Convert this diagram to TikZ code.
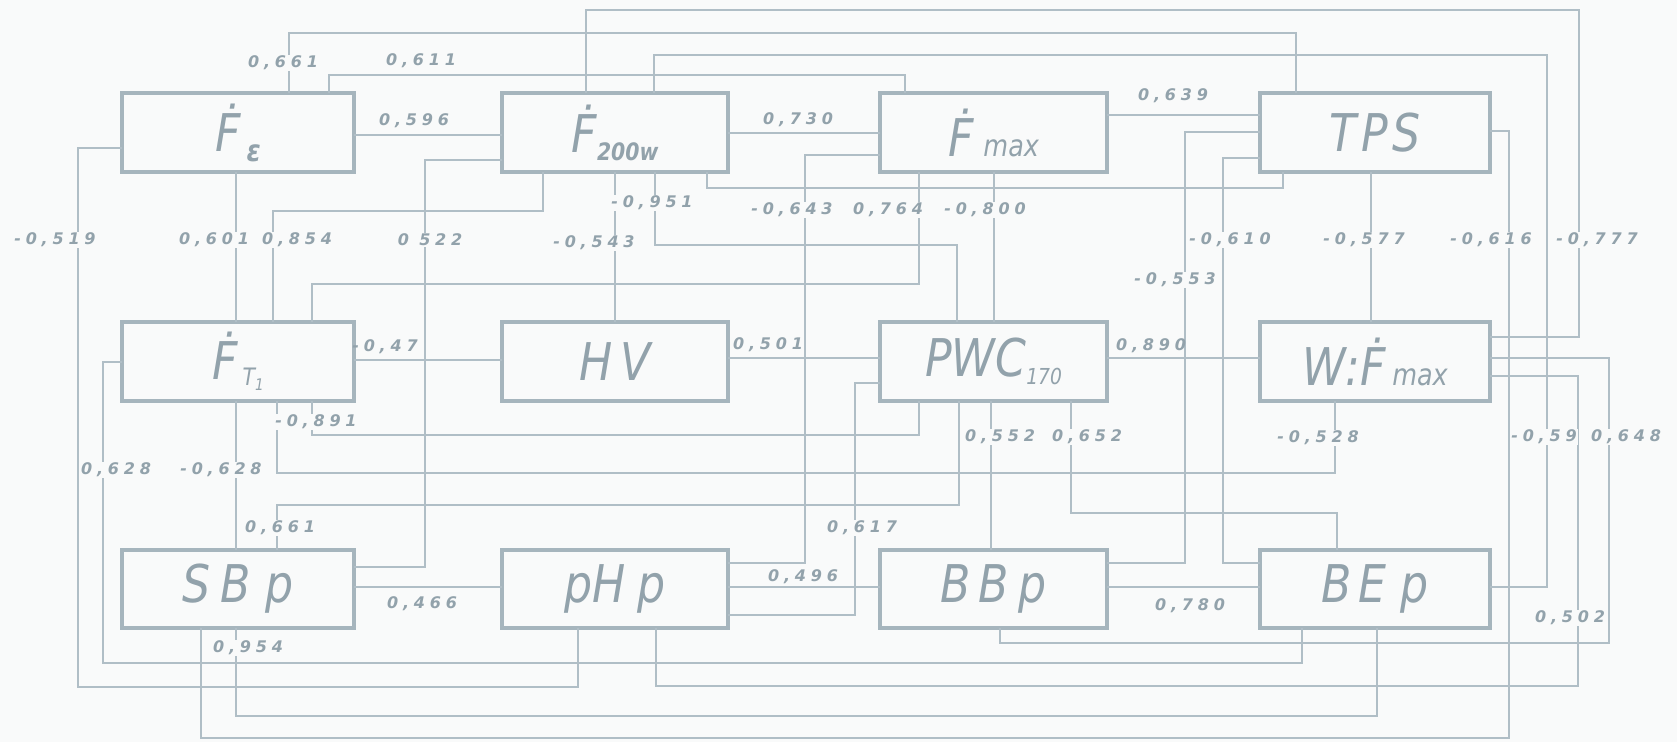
\documentclass[tikz,border=0pt]{standalone}
\usepackage{fontspec}
\usetikzlibrary{calc}
\newfontfamily\boxfont[FakeStretch=0.85]{DejaVu Sans}
\newfontfamily\numfont[LetterSpace=30]{DejaVu Sans}
\definecolor{bgc}{RGB}{249,250,250}
\definecolor{linec}{RGB}{176,190,198}
\definecolor{boxc}{RGB}{166,181,189}
\definecolor{txtc}{RGB}{146,162,171}
\begin{document}
\begin{tikzpicture}[x=1pt,y=-1pt,
  box/.style={draw=boxc,line width=3.2pt,minimum height=79pt,inner sep=0pt,outer sep=0pt,text=txtc,font=\boxfont\itshape\fontsize{52}{52}\selectfont},
  conn/.style={draw=linec,line width=1.5pt},
  lab/.style={text=txtc,inner sep=1pt,font=\numfont\bfseries\itshape\fontsize{16}{16}\selectfont},
  labf/.style={lab,fill=bgc}]
\fill[bgc] (0,0) rectangle (1677,742);
\useasboundingbox (0,0) rectangle (1677,742);
% boxes
\node[box,minimum width=232pt] (Fe) at (238,132.5) {Ḟ\hspace{6pt}\raisebox{-10pt}{\fontsize{30}{30}\selectfont\bfseries ε}};
\node[box,minimum width=226pt] (Fw) at (615,132.5) {Ḟ\raisebox{-8pt}{\fontsize{24}{24}\selectfont\bfseries 200w}};
\node[box,minimum width=227pt] (Fm) at (993.5,132.5) {Ḟ\hspace{10pt}{\fontsize{30}{30}\selectfont max}};
\node[box,minimum width=230pt] (TPS) at (1375,132.5) {T\hspace{5pt}P\hspace{5pt}S};
\node[box,minimum width=232pt] (Ft) at (238,361.5) {Ḟ\hspace{5pt}\raisebox{-6pt}{\fontsize{24}{24}\selectfont T\raisebox{-5pt}{\fontsize{16}{16}\selectfont 1}}};
\node[box,minimum width=226pt] (HV) at (615,361.5) {H\hspace{8pt}V};
\node[box,minimum width=227pt] (PWC) at (993.5,361.5) {PWC\raisebox{-8pt}{\fontsize{22}{22}\selectfont 170}};
\node[box,minimum width=230pt] (WF) at (1375,361.5) {W:Ḟ\hspace{6pt}{\fontsize{30}{30}\selectfont max}};
\node[box,minimum width=232pt,minimum height=78pt] (SB) at (238,589) {S\hspace{10pt}B\hspace{14pt}p};
\node[box,minimum width=226pt,minimum height=78pt] (pH) at (615,589) {pH\hspace{12pt}p};
\node[box,minimum width=227pt,minimum height=78pt] (BB) at (993.5,589) {B\hspace{8pt}B\hspace{10pt}p};
\node[box,minimum width=230pt,minimum height=78pt] (BE) at (1375,589) {B\hspace{6pt}E\hspace{14pt}p};
% connectors
\draw[conn] ($(Fe.north west)+(167,0)$) -- ++(0,-60) -| ($(TPS.north west)+(36,0)$);
\draw[conn] ($(Fe.north west)+(207,0)$) -- ++(0,-18) -| ($(Fm.north west)+(25,0)$);
\draw[conn] ($(Fe.north east)+(0,42)$) -- ($(Fw.north west)+(0,42)$);
\draw[conn] ($(Fe.south west)+(114,0)$) -- ($(Ft.north west)+(114,0)$);
\draw[conn] ($(Fe.north west)+(0,55)$) -- ++(-44,0) -- ++(0,539) -| ($(pH.south west)+(76,0)$);
\draw[conn] ($(Fw.north west)+(84,0)$) -- ++(0,-83) -- ++(993,0) |- ($(WF.north east)+(0,15)$);
\draw[conn] ($(Fw.north west)+(152,0)$) -- ++(0,-38) -- ++(893,0) |- ($(BE.north east)+(0,37)$);
\draw[conn] ($(Fw.north east)+(0,40)$) -- ($(Fm.north west)+(0,40)$);
\draw[conn] ($(Fw.north west)+(0,67)$) -- ++(-77,0) |- ($(SB.north east)+(0,17)$);
\draw[conn] ($(Fw.south west)+(41,0)$) -- ++(0,39) -| ($(Ft.north west)+(151,0)$);
\draw[conn] ($(Fw.south west)+(113,0)$) -- ($(HV.north west)+(113,0)$);
\draw[conn] ($(Fw.south west)+(153,0)$) -- ++(0,73) -| ($(PWC.north west)+(77,0)$);
\draw[conn] ($(Fw.south west)+(205,0)$) -- ++(0,16) -| ($(TPS.south west)+(23,0)$);
\draw[conn] ($(Fm.north east)+(0,22)$) -- ($(TPS.north west)+(0,22)$);
\draw[conn] ($(Fm.north west)+(0,62)$) -- ++(-75,0) |- ($(pH.north east)+(0,13)$);
\draw[conn] ($(Fm.south west)+(39,0)$) -- ++(0,112) -| ($(Ft.north west)+(190,0)$);
\draw[conn] ($(Fm.south west)+(114,0)$) -- ($(PWC.north west)+(114,0)$);
\draw[conn] ($(TPS.north west)+(0,39)$) -- ++(-75,0) |- ($(BB.north east)+(0,13)$);
\draw[conn] ($(TPS.north west)+(0,65)$) -- ++(-37,0) |- ($(BE.north west)+(0,13)$);
\draw[conn] ($(TPS.south west)+(111,0)$) -- ($(WF.north west)+(111,0)$);
\draw[conn] ($(TPS.north east)+(0,38)$) -- ++(19,0) -- ++(0,607) -| ($(SB.south west)+(79,0)$);
\draw[conn] ($(Ft.north east)+(0,38)$) -- ($(HV.north west)+(0,38)$);
\draw[conn] ($(Ft.south west)+(190,0)$) -- ++(0,34) -| ($(PWC.south west)+(39,0)$);
\draw[conn] ($(Ft.south west)+(155,0)$) -- ++(0,72) -| ($(WF.south west)+(75,0)$);
\draw[conn] ($(Ft.south west)+(114,0)$) -- ($(SB.north west)+(114,0)$);
\draw[conn] ($(Ft.north west)+(0,40)$) -- ++(-19,0) -- ++(0,301) -| ($(BE.south west)+(42,0)$);
\draw[conn] ($(HV.north east)+(0,36)$) -- ($(PWC.north west)+(0,36)$);
\draw[conn] ($(PWC.north east)+(0,36)$) -- ($(WF.north west)+(0,36)$);
\draw[conn] ($(PWC.south west)+(79,0)$) -- ++(0,104) -| ($(SB.north west)+(155,0)$);
\draw[conn] ($(PWC.north west)+(0,61)$) -- ++(-25,0) |- ($(pH.north east)+(0,65)$);
\draw[conn] ($(PWC.south west)+(111,0)$) -- ($(BB.north west)+(111,0)$);
\draw[conn] ($(PWC.south west)+(191,0)$) -- ++(0,112) -| ($(BE.north west)+(77,0)$);
\draw[conn] ($(WF.north east)+(0,36)$) -- ++(119,0) -- ++(0,285) -| ($(BB.south west)+(120,0)$);
\draw[conn] ($(WF.north east)+(0,54)$) -- ++(88,0) -- ++(0,310) -| ($(pH.south west)+(154,0)$);
\draw[conn] ($(SB.north east)+(0,37)$) -- ($(pH.north west)+(0,37)$);
\draw[conn] ($(pH.north east)+(0,37)$) -- ($(BB.north west)+(0,37)$);
\draw[conn] ($(BB.north east)+(0,37)$) -- ($(BE.north west)+(0,37)$);
\draw[conn] ($(SB.south west)+(114,0)$) -- ++(0,88) -| ($(BE.south west)+(117,0)$);
% labels
\node[labf] (l1) at (283,63) {0,661};
\node[lab] (l2) at (421,61) {0,611};
\node[lab] (l3) at (414,121) {0,596};
\node[labf] (l4) at (214,240) {0,601};
\node[labf] (l5) at (55,240) {-0,519};
\node[labf] (l6) at (1597,240) {-0,777};
\node[labf] (l7) at (1544,437) {-0,59};
\node[lab] (l8) at (798,120) {0,730};
\node[labf] (l9) at (430,240) {0 522};
\node[labf] (l10) at (297,240) {0,854};
\node[labf] (l11) at (594,243) {-0,543};
\node[labf] (l12) at (652,203) {-0,951};
\node[lab] (l14) at (1173,96) {0,639};
\node[labf] (l15) at (792,210) {-0,643};
\node[labf] (l16) at (888,210) {0,764};
\node[labf] (l17) at (985,210) {-0,800};
\node[labf] (l18) at (1175,280) {-0,553};
\node[labf] (l19) at (1230,240) {-0,610};
\node[labf] (l20) at (1364,240) {-0,577};
\node[labf] (l21) at (1491,240) {-0,616};
\node[lab] (l22) at (385,347) {-0,47};
\node[labf] (l23) at (316,422) {-0,891};
\node[labf] (l24) at (1318,438) {-0,528};
\node[labf] (l25) at (221,470) {-0,628};
\node[labf] (l26) at (116,470) {0,628};
\node[lab] (l27) at (768,345) {0,501};
\node[lab] (l28) at (1151,346) {0,890};
\node[labf] (l29) at (280,528) {0,661};
\node[labf] (l30) at (862,528) {0,617};
\node[labf] (l31) at (1000,437) {0,552};
\node[labf] (l32) at (1087,437) {0,652};
\node[labf] (l33) at (1626,437) {0,648};
\node[labf] (l34) at (1570,618) {0,502};
\node[lab] (l35) at (422,604) {0,466};
\node[lab] (l36) at (803,577) {0,496};
\node[lab] (l37) at (1190,606) {0,780};
\node[labf] (l38) at (248,648) {0,954};
\end{tikzpicture}
\end{document}
